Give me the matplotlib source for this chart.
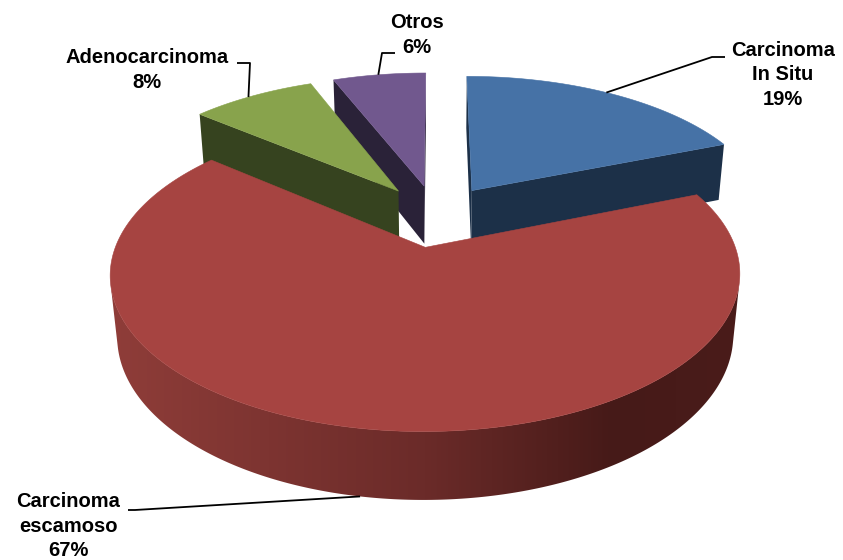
import numpy as np
import matplotlib.pyplot as plt
from matplotlib.colors import LinearSegmentedColormap
from matplotlib.patches import Polygon

# data
labels = ["Carcinoma\nIn Situ", "Carcinoma\nescamoso", "Adenocarcinoma", "Otros"]
shares = [19, 67, 8, 6]

TOP = ["#4672A6", "#A64441", "#88A34C", "#71588E"]
SIDE = ["#1C3048", "#8F3D39", "#36431F", "#2A2238"]
SIDE_MID = ["#1C3048", "#6B2B29", "#36431F", "#2A2238"]
SIDE_DARK = ["#1A2C44", "#461A18", "#323E1C", "#272035"]

# label placement (centre of the text block, pixels) and leader lines
LABEL_XY = [(783, 75), (68, 526), (147, 70), (417, 35)]
ANCHOR = [(33, 0.0), (190, -1.0), (323, 0.0), (349, 0.0)]  # rim angle, top/bottom
ELBOW = [[(712, 57), (725, 57)], [(135, 510), (128, 510)],
         [(250, 63), (237, 63)], [(382, 53), (395, 53)]]

# 3d view of the pie (units of pie radius)
ELEV = np.radians(28.2)
DIST = 5.24
FOCAL = 1565
CX, CY = 436, 215.5
HEIGHT = 0.229
EXPLODE = 0.22
COS, SIN = np.cos(ELEV), np.sin(ELEV)
CAM = np.array([0.0, -DIST * COS, DIST * SIN])


def project(x, y, z):
    depth = y * COS - z * SIN + DIST
    return CX + FOCAL * x / depth, CY - FOCAL * (y * SIN + z * COS) / depth


def rim(off, theta, z):
    t = np.radians(theta)
    return np.array([off[0] + np.sin(t), off[1] + np.cos(t), z])


def facing(normal, point):
    return np.dot(normal, CAM - point) > 0


fig = plt.figure(figsize=(8.43, 5.6), dpi=100)
ax = fig.add_axes([0, 0, 1, 1])

bounds = np.concatenate([[0], np.cumsum(shares)]) / sum(shares) * 360
slices = []
for i in range(len(shares)):
    a0, a1 = bounds[i], bounds[i + 1]
    mid = np.radians((a0 + a1) / 2)
    off = EXPLODE * np.array([np.sin(mid), np.cos(mid)])
    slices.append((a0, a1, off))

# paint far slices first
order = sorted(range(len(shares)), key=lambda k: -(slices[k][2][1]))

for i in order:
    a0, a1, off = slices[i]
    c_top = np.array([off[0], off[1], 0.0])
    c_bot = np.array([off[0], off[1], -HEIGHT])

    # radial faces
    for ang, sign in ((a0, -1), (a1, 1)):
        t = np.radians(ang)
        normal = sign * np.array([np.cos(t), -np.sin(t), 0.0])
        pts3 = [c_top, rim(off, ang, 0.0), rim(off, ang, -HEIGHT), c_bot]
        if facing(normal, np.mean(pts3, axis=0)):
            ax.add_patch(Polygon([project(*p) for p in pts3], closed=True,
                                 fc=SIDE[i] if i != 1 else SIDE_DARK[i], lw=0))

    # outer curved wall, shaded left (light) to right (dark)
    th = np.linspace(a0, a1, int(a1 - a0) * 2 + 2)
    vis = [a for a in th
           if facing(rim((0, 0), a, 0.0) * [1, 1, 0], rim(off, a, -HEIGHT / 2))]
    if len(vis) > 1:
        seg = np.linspace(min(vis), max(vis), 400)
        pts = [project(*rim(off, a, 0.0)) for a in seg] + \
              [project(*rim(off, a, -HEIGHT)) for a in seg[::-1]]
        wall = Polygon(pts, closed=True, fc="none", lw=0)
        ax.add_patch(wall)
        xs = [p[0] for p in pts]
        ys = [p[1] for p in pts]
        cmap = LinearSegmentedColormap.from_list(
            "wall%d" % i, [(0, SIDE[i]), (0.5, SIDE_MID[i]), (0.8, SIDE_DARK[i]),
                           (1, "#4A1C1A" if i == 1 else SIDE_DARK[i])])
        grad = np.linspace(0, 1, 256)[None, :]
        im = ax.imshow(grad, cmap=cmap, aspect="auto", interpolation="bilinear",
                       extent=[min(xs), max(xs), max(ys), min(ys)], zorder=1)
        im.set_clip_path(wall)

    # top face
    arc = np.linspace(a0, a1, max(int((a1 - a0) / 0.5), 2))
    pts = [project(*c_top)] + [project(*rim(off, a, 0.0)) for a in arc]
    ax.add_patch(Polygon(pts, closed=True, fc=TOP[i], ec=TOP[i], lw=0.4, zorder=1))

ax.set_xlim(0, 843)
ax.set_ylim(560, 0)
ax.axis("off")

# labels with leader lines
for i in range(len(shares)):
    ang, zf = ANCHOR[i]
    px, py = project(*rim(slices[i][2], ang, zf * HEIGHT))
    xs = [px] + [p[0] for p in ELBOW[i]]
    ys = [py] + [p[1] for p in ELBOW[i]]
    ax.plot(xs, ys, color="black", lw=1.3, solid_capstyle="butt", zorder=3)
    ax.text(LABEL_XY[i][0], LABEL_XY[i][1], f"{labels[i]}\n{shares[i]}%",
            ha="center", va="center", ma="center", fontsize=14.5, fontweight="bold",
            family=["Liberation Sans", "DejaVu Sans"], linespacing=1.36, zorder=4)

fig.savefig("out.png", dpi=100)
